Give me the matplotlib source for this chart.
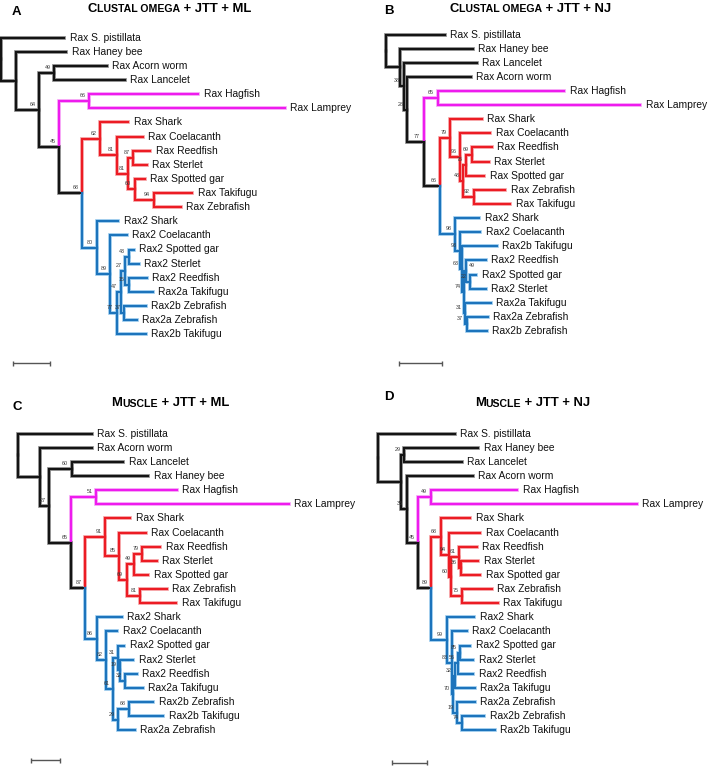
import matplotlib
matplotlib.use("Agg")
import matplotlib.pyplot as plt

plt.rcParams['font.family'] = ['Liberation Sans', 'DejaVu Sans']

# ---------------- data ----------------
# Trees in Newick form: branch lengths (in drawing units) and bootstrap support values
tree_A = ("(Rax S. pistillata:63,(Rax Haney bee:50,((Rax Acorn worm:53,Rax Lancelet:71)49:15,"
          "((Rax Hagfish:109,Rax Lamprey:196)66:30,((Rax Shark:28,(Rax Coelacanth:26,"
          "((Rax Reedfish:17,Rax Sterlet:13.5)87:5,(Rax Spotted gar:10.5,"
          "(Rax Takifugu:38.5,Rax Zebrafish:27.5)94:19)60:6.5)81:11)81:17)62:18,"
          "(Rax2 Shark:21.5,(Rax2 Coelacanth:16.5,((((Rax2 Spotted gar:5,Rax2 Sterlet:10)43:3.5,"
          "(Rax2 Reedfish:18.5,Rax2a Takifugu:24.5)15:3.5)27:4.5,"
          "(Rax2b Zebrafish:21.5,Rax2a Zebrafish:12.5)37:3.5)47:4,Rax2b Takifugu:29)77:6.5)89:13.5)80:14.5)68:23)45:20)64:23):15);")

tree_B = ("(Rax S. pistillata:59,(Rax Haney bee:73,(Rax Lancelet:73.5,(Rax Acorn worm:63.5,"
          "((Rax Hagfish:126.7,Rax Lamprey:202.7)65:14,((Rax Shark:31.7,(Rax Coelacanth:30,"
          "(((Rax Reedfish:20,Rax Sterlet:16.6)69:5.7,Rax Spotted gar:18)75:3,"
          "(Rax Zebrafish:31.7,Rax Takifugu:36.7)92:10.3)48:3)96:10)79:10,"
          "(Rax2 Shark:24,(Rax2 Coelacanth:20,(Rax2b Takifugu:34.7,((Rax2 Reedfish:19.7,"
          "(Rax2 Spotted gar:6,Rax2 Sterlet:15.7)22:4)49:2,(Rax2a Takifugu:25.7,"
          "(Rax2a Zebrafish:21.2,Rax2b Zebrafish:20.2)37:1.5)31:1)74:2)63:2)93:5)98:15)66:16.7)77:16.5)28:3.5)38:3.5):14);")

tree_C = ("(Rax S. pistillata:74,(Rax Acorn worm:51.7,((Rax Lancelet:51.6,Rax Haney bee:76.6)60:22.4,"
          "((Rax Hagfish:80.7,Rax Lamprey:193)51:25,((Rax Shark:25,(Rax Coelacanth:26.4,"
          "(((Rax Reedfish:18.3,Rax Sterlet:15)79:7.7,Rax Spotted gar:14.3)49:7.3,"
          "(Rax Zebrafish:26.7,Rax Takifugu:36)81:13.3)69:7.4)85:14.3)91:20,"
          "(Rax2 Shark:25,(Rax2 Coelacanth:11.3,((Rax2 Spotted gar:5.7,(Rax2 Sterlet:13.3,"
          "(Rax2 Reedfish:11.7,Rax2a Takifugu:17.7)32:5)19:1.7)31:5,((Rax2b Zebrafish:24,"
          "Rax2b Takifugu:34)68:11,Rax2a Zebrafish:16.7)29:5)61:7.3)82:9.3)86:11.7)87:14)65:21.7)27:9.3):22.3);")

tree_D = ("(Rax S. pistillata:76.7,((Rax Haney bee:74.3,Rax Lancelet:57.7)29:3.3,(Rax Acorn worm:66,"
          "((Rax Hagfish:86.6,Rax Lamprey:206.3)49:12.4,((Rax Shark:29.3,(Rax Coelacanth:30.7,"
          "((Rax Reedfish:17.4,(Rax Sterlet:17.6,Rax Spotted gar:19.3)36:1.4)61:8.3,"
          "(Rax Zebrafish:30,Rax Takifugu:36)75:10.7)60:1.7)94:8.6)68:9.7,"
          "(Rax2 Shark:27.3,(Rax2 Coelacanth:15.3,((((Rax2 Spotted gar:10,Rax2 Sterlet:13.3)85:1.7,"
          "Rax2 Reedfish:15)56:3.3,Rax2a Takifugu:20)32:2,(Rax2a Zebrafish:18.3,"
          "(Rax2b Zebrafish:22.3,Rax2b Takifugu:33.3)74:5)19:3.7)70:1.3)83:5)99:15.7)89:12.7)45:11.6)35:6):22.4);")

trees = [tree_A, tree_B, tree_C, tree_D]
panel_letters = ["A", "B", "C", "D"]
title_aligners = ["Clustal omega", "Clustal omega", "Muscle", "Muscle"]
title_suffixes = [" + JTT + ML", " + JTT + NJ", " + JTT + ML", " + JTT + NJ"]
scale_bar_lengths = [37, 43, 29, 35]

cyclostome_rax = ["Rax Hagfish", "Rax Lamprey"]
gnathostome_rax = ["Rax Shark", "Rax Coelacanth", "Rax Reedfish", "Rax Sterlet",
                   "Rax Spotted gar", "Rax Zebrafish", "Rax Takifugu"]

# ---------------- layout / style ----------------
W, H = 709, 766
root_x = [1, 386, 17.7, 378.3]
first_leaf_y = [37.7, 34.5, 433.7, 433.7]
leaf_step = 14.12
letter_pos = [(11.5, 15), (384.5, 14), (12.5, 410.5), (384, 399.5)]
title_pos = [(88, 11.8), (450, 11.8), (111.5, 406), (475, 406)]
scale_pos = [(13, 363.3), (399, 363.3), (31, 760), (392, 762.7)]

CORE = {'black': '#141414', 'red': '#EC1C24', 'magenta': '#EE1BEE', 'blue': '#1C74BC'}
HALO = {'black': '#8c8c8c', 'red': '#F6A3A6', 'magenta': '#F7A6F7', 'blue': '#9FCDEF'}

fig = plt.figure(figsize=(W / 100, H / 100), dpi=100)
ax = fig.add_axes([0, 0, 1, 1])
ax.set_xlim(0, W)
ax.set_ylim(H, 0)
ax.axis('off')


def parse_newick(s):
    s = s.strip().rstrip(';')
    pos = 0

    def node():
        nonlocal pos
        n = {'children': [], 'name': '', 'support': '', 'length': 0.0}
        if s[pos] == '(':
            pos += 1
            while True:
                n['children'].append(node())
                if s[pos] == ',':
                    pos += 1
                    continue
                pos += 1  # ')'
                break
        start = pos
        while pos < len(s) and s[pos] not in ':,()':
            pos += 1
        label = s[start:pos].strip()
        if n['children']:
            n['support'] = label
        else:
            n['name'] = label
        if pos < len(s) and s[pos] == ':':
            pos += 1
            start = pos
            while pos < len(s) and s[pos] not in ',()':
                pos += 1
            n['length'] = float(s[start:pos])
        return n

    return node()


def leaves(n):
    if not n['children']:
        return [n['name']]
    out = []
    for c in n['children']:
        out += leaves(c)
    return out


def clade_color(n):
    names = leaves(n)
    if all(x.startswith('Rax2') for x in names):
        return 'blue'
    if all(x in gnathostome_rax for x in names):
        return 'red'
    if all(x in cyclostome_rax for x in names):
        return 'magenta'
    return 'black'


def layout(n, x0, ys):
    n['x'] = x0 + n['length']
    if not n['children']:
        n['y'] = next(ys)
    else:
        for c in n['children']:
            layout(c, n['x'], ys)
        n['y'] = (n['children'][0]['y'] + n['children'][-1]['y']) / 2


placed = []


def collides(x0, x1, y0, y1):
    for (a0, a1, b0, b1) in placed:
        if x0 < a1 and a0 < x1 and y0 < b1 and b0 < y1:
            return True
    return False


def draw(n):
    for c in n['children']:
        col = clade_color(c)
        xs = [n['x'], n['x'], c['x']]
        ys = [n['y'], c['y'], c['y']]
        ax.plot(xs, ys, color=HALO[col], lw=2.7, solid_joinstyle='miter',
                solid_capstyle='projecting', zorder=1)
        ax.plot(xs, ys, color=CORE[col], lw=1.5, solid_joinstyle='miter',
                solid_capstyle='projecting', zorder=2)
        if c['children']:
            if c['support']:
                w = 3.1 * len(c['support'])
                yc = c['y'] - 5.5
                xr = c['x'] - 3.5
                if collides(xr - w, xr, yc - 2.5, yc + 2.5):
                    # place to the right of the node when the left side is taken
                    xl = c['x'] + 2.5
                    ax.text(xl, yc, c['support'], ha='left', va='center',
                            fontsize=3.9, color='#3a3a3a', zorder=3)
                    placed.append((xl, xl + w, yc - 2.5, yc + 2.5))
                else:
                    ax.text(xr, yc, c['support'], ha='right', va='center',
                            fontsize=3.9, color='#3a3a3a', zorder=3)
                    placed.append((xr - w, xr, yc - 2.5, yc + 2.5))
        else:
            ax.text(c['x'] + 5.5, c['y'], c['name'], ha='left', va='center',
                    fontsize=7.4, color='#111111', zorder=3)
        draw(c)


for i, nwk in enumerate(trees):
    t = parse_newick(nwk)
    ys = iter([first_leaf_y[i] + k * leaf_step for k in range(len(leaves(t)))])
    layout(t, root_x[i], ys)
    placed.clear()
    draw(t)

    # panel letter
    lx, ly = letter_pos[i]
    ax.text(lx, ly, panel_letters[i], fontsize=9.5, fontweight='bold', ha='left', va='baseline')

    # title in small caps
    tx, ty = title_pos[i]
    word = title_aligners[i]
    big = 9.4
    small = big * 0.8
    t1 = ax.text(tx, ty + 2.7, word[0].upper(), fontsize=big, fontweight='bold',
                 ha='left', va='bottom')
    t2 = ax.annotate(word[1:].upper(), xy=(1, 0), xycoords=t1, fontsize=small,
                     fontweight='bold', ha='left', va='bottom')
    ax.annotate(title_suffixes[i], xy=(1, 0), xycoords=t2, fontsize=big,
                fontweight='bold', ha='left', va='bottom')

    # scale bar
    sx, sy = scale_pos[i]
    L = scale_bar_lengths[i]
    ax.plot([sx, sx + L], [sy, sy], color='#555555', lw=1.0, solid_capstyle='butt')
    ax.plot([sx, sx], [sy - 2.5, sy + 2.5], color='#555555', lw=1.0, solid_capstyle='butt')
    ax.plot([sx + L, sx + L], [sy - 2.5, sy + 2.5], color='#555555', lw=1.0, solid_capstyle='butt')

fig.savefig("out.png", dpi=100)
